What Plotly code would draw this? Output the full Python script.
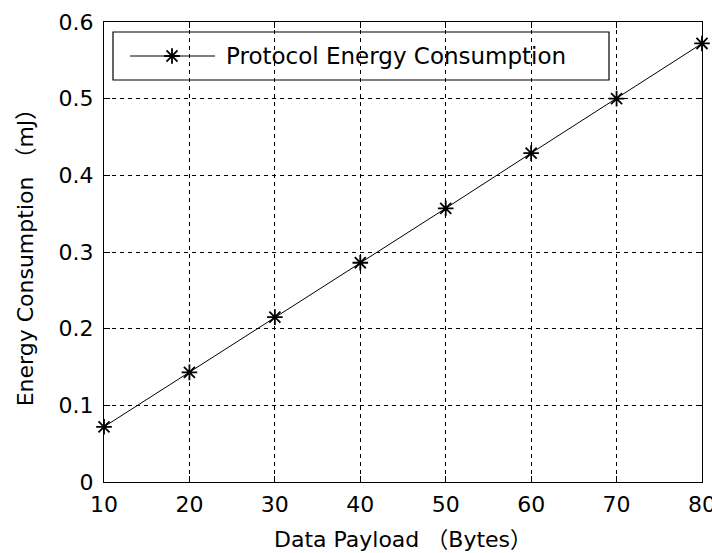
import plotly.graph_objects as go

payload = [10, 20, 30, 40, 50, 60, 70, 80]
energy = [0.072, 0.143, 0.215, 0.286, 0.357, 0.429, 0.500, 0.572]
x_ticks = [10, 20, 30, 40, 50, 60, 70, 80]
y_ticks = [0, 0.1, 0.2, 0.3, 0.4, 0.5, 0.6]
y_tick_text = ["0", "0.1", "0.2", "0.3", "0.4", "0.5", "0.6"]
series_name = "Protocol Energy Consumption"

FONT = "DejaVu Sans, Noto Sans CJK SC, sans-serif"
FS = 22
W, H = 712, 553
L, R, T, B = 104, 10, 22, 71

fig = go.Figure()
fig.add_trace(go.Scatter(
    x=payload, y=energy, mode="lines+markers", name=series_name,
    line=dict(color="black", width=1),
    marker=dict(symbol="asterisk-open", size=13, color="black",
                line=dict(color="black", width=1.8)),
    showlegend=False, cliponaxis=False,
))

# custom MATLAB-style legend
pw, ph = W - L - R, H - T - B
def px(x): return (x - L) / pw
def py(y): return (H - B - y) / ph

fig.add_shape(type="rect", xref="paper", yref="paper",
              x0=px(113), x1=px(609), y0=py(80), y1=py(32),
              line=dict(color="black", width=1.2), fillcolor="white", layer="between")
fig.add_shape(type="line", xref="paper", yref="paper",
              x0=px(130), x1=px(215), y0=py(56), y1=py(56),
              line=dict(color="black", width=1), layer="above")
fig.add_trace(go.Scatter(
    x=[px(172)], y=[py(56)], xaxis="x2", yaxis="y2", mode="markers",
    marker=dict(symbol="asterisk-open", size=13, color="black",
                line=dict(color="black", width=1.8)),
    showlegend=False, hoverinfo="skip", cliponaxis=False,
))
fig.add_annotation(xref="paper", yref="paper", x=px(224), y=py(56),
                   xanchor="left", yanchor="middle", text=series_name,
                   showarrow=False, font=dict(family=FONT, size=23, color="black"))

axis_common = dict(
    showline=True, linecolor="black", linewidth=1.2, mirror="ticks",
    ticks="inside", ticklen=6, tickcolor="black", tickwidth=1,
    showgrid=True, gridcolor="black", gridwidth=1, griddash="4px,4px",
    zeroline=False, tickfont=dict(family=FONT, size=FS, color="black"),
    ticklabeloverflow="allow", automargin=False,
)

fig.update_layout(
    width=W, height=H,
    margin=dict(l=L, r=R, t=T, b=B),
    paper_bgcolor="white", plot_bgcolor="white",
    font=dict(family=FONT, color="black"),
    xaxis=dict(range=[10, 80], tickvals=x_ticks, ticklabelstandoff=2,
               title=dict(text="Data Payload （Bytes）", font=dict(family=FONT, size=FS),
                          standoff=16),
               **axis_common),
    yaxis=dict(range=[0, 0.6], tickvals=y_ticks, ticktext=y_tick_text,
               ticklabelstandoff=5,
               title=dict(text="Energy Consumption （mJ）", font=dict(family=FONT, size=FS),
                          standoff=18),
               **axis_common),
    xaxis2=dict(overlaying="x", range=[0, 1], visible=False),
    yaxis2=dict(overlaying="y", range=[0, 1], visible=False),
)

fig.write_html("out.html", config={"displayModeBar": False},
               post_script="document.body.style.margin='0';")
